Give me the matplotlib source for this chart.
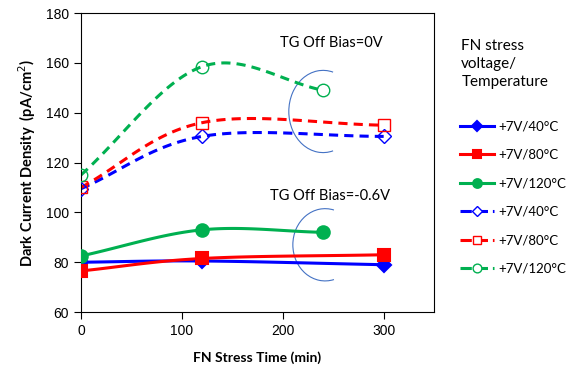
import numpy as np
import matplotlib
matplotlib.use("Agg")
from matplotlib import pyplot as plt
from matplotlib.patches import Arc

# stress time (min)
t_full = [0, 120, 300]
t_short = [0, 120, 240]

# TG off bias = -0.6V (solid)
solid_40 = [80, 80.5, 79]
solid_80 = [76.5, 81.5, 83]
solid_120 = [82.5, 93, 92]
# TG off bias = 0V (dashed)
dash_40 = [109.5, 130.5, 130.5]
dash_80 = [110, 136, 135]
dash_120 = [115, 158.5, 149]

labels = ["+7V/40°C", "+7V/80°C", "+7V/120°C", "+7V/40°C", "+7V/80°C", "+7V/120°C"]

BLUE = "#0000ff"
RED = "#ff0000"
GREEN = "#00b050"


def smooth(x, y, n=40):
	# excel-like smoothed line (catmull-rom) through the points
	x = np.asarray(x, float)
	y = np.asarray(y, float)
	px = np.concatenate([[2 * x[0] - x[1]], x, [2 * x[-1] - x[-2]]])
	py = np.concatenate([[2 * y[0] - y[1]], y, [2 * y[-1] - y[-2]]])
	xs, ys = [], []
	s = np.linspace(0, 1, n)
	for i in range(1, len(px) - 2):
		for p, out in ((px, xs), (py, ys)):
			p0, p1, p2, p3 = p[i - 1], p[i], p[i + 1], p[i + 2]
			m1 = (p2 - p0) / 6.0
			m2 = (p3 - p1) / 6.0
			c1 = p1 + m1
			c2 = p2 - m2
			out.extend((1 - s) ** 3 * p1 + 3 * (1 - s) ** 2 * s * c1 + 3 * (1 - s) * s ** 2 * c2 + s ** 3 * p2)
	return xs, ys


plt.rcParams['font.family'] = ['Lato', 'DejaVu Sans']
fig = plt.figure(figsize=(5.66, 3.68), dpi=100)
ax = fig.add_axes([0.143, 0.152, 0.624, 0.8125])

series = [
	(t_full, solid_40, BLUE, "-", "D", BLUE, 7),
	(t_full, solid_80, RED, "-", "s", RED, 9),
	(t_short, solid_120, GREEN, "-", "o", GREEN, 9),
	(t_full, dash_40, BLUE, "--", "D", "white", 7),
	(t_full, dash_80, RED, "--", "s", "white", 9),
	(t_short, dash_120, GREEN, "--", "o", "white", 9),
]

handles = []
for (x, y, c, ls, mk, fc, ms), lab in zip(series, labels):
	sx, sy = smooth(x, y)
	ax.plot(sx, sy, color=c, ls=ls, lw=2.2, dashes=(3, 2) if ls == "--" else (None, None), zorder=2)
	mew = 1.0 if fc == "white" else 1.5
	ax.plot(x, y, ls="none", marker=mk, ms=ms, mfc=fc if fc != "white" else "none", mec=c, mew=mew, zorder=3)
	h, = ax.plot([], [], color=c, ls=ls, lw=2.2, marker=mk, ms=ms * 0.7,
				 mfc=fc, mec=c, mew=mew)
	handles.append(h)

# annotation brackets
ax.add_patch(Arc((240, 140.5), 68, 33, theta1=58, theta2=302, color="#4472c4", lw=0.8))
ax.add_patch(Arc((242, 87), 64, 29, theta1=58, theta2=302, color="#4472c4", lw=0.8))
ax.text(248, 168, "TG Off Bias=0V", fontsize=10.5, ha="center", va="center")
ax.text(247, 106.5, "TG Off Bias=-0.6V", fontsize=10.5, ha="center", va="center")

ax.set_xlim(0, 350)
ax.set_ylim(60, 180)
ax.set_xticks([0, 100, 200, 300])
ax.set_yticks(range(60, 181, 20))
ax.tick_params(direction="out", length=5, labelsize=10)
for lbl in ax.get_xticklabels() + ax.get_yticklabels():
	lbl.set_family(['Liberation Sans', 'DejaVu Sans'])
ax.set_xlabel("FN Stress Time (min)", fontsize=10, fontweight="bold", labelpad=10)
ax.set_ylabel("Dark Current Density  (pA/cm$^2$)", fontsize=10.5, fontweight="bold", labelpad=6)

fig.text(0.815, 0.895, "FN stress\nvoltage/\nTemperature", fontsize=11, ha="left", va="top", linespacing=1.4)
fig.legend(handles, labels, loc="upper left", bbox_to_anchor=(0.813, 0.673), frameon=False,
		   fontsize=9.5, handlelength=2.6, labelspacing=1.25, handletextpad=0.3,
		   borderpad=0, borderaxespad=0)

fig.savefig("out.png", dpi=100)
